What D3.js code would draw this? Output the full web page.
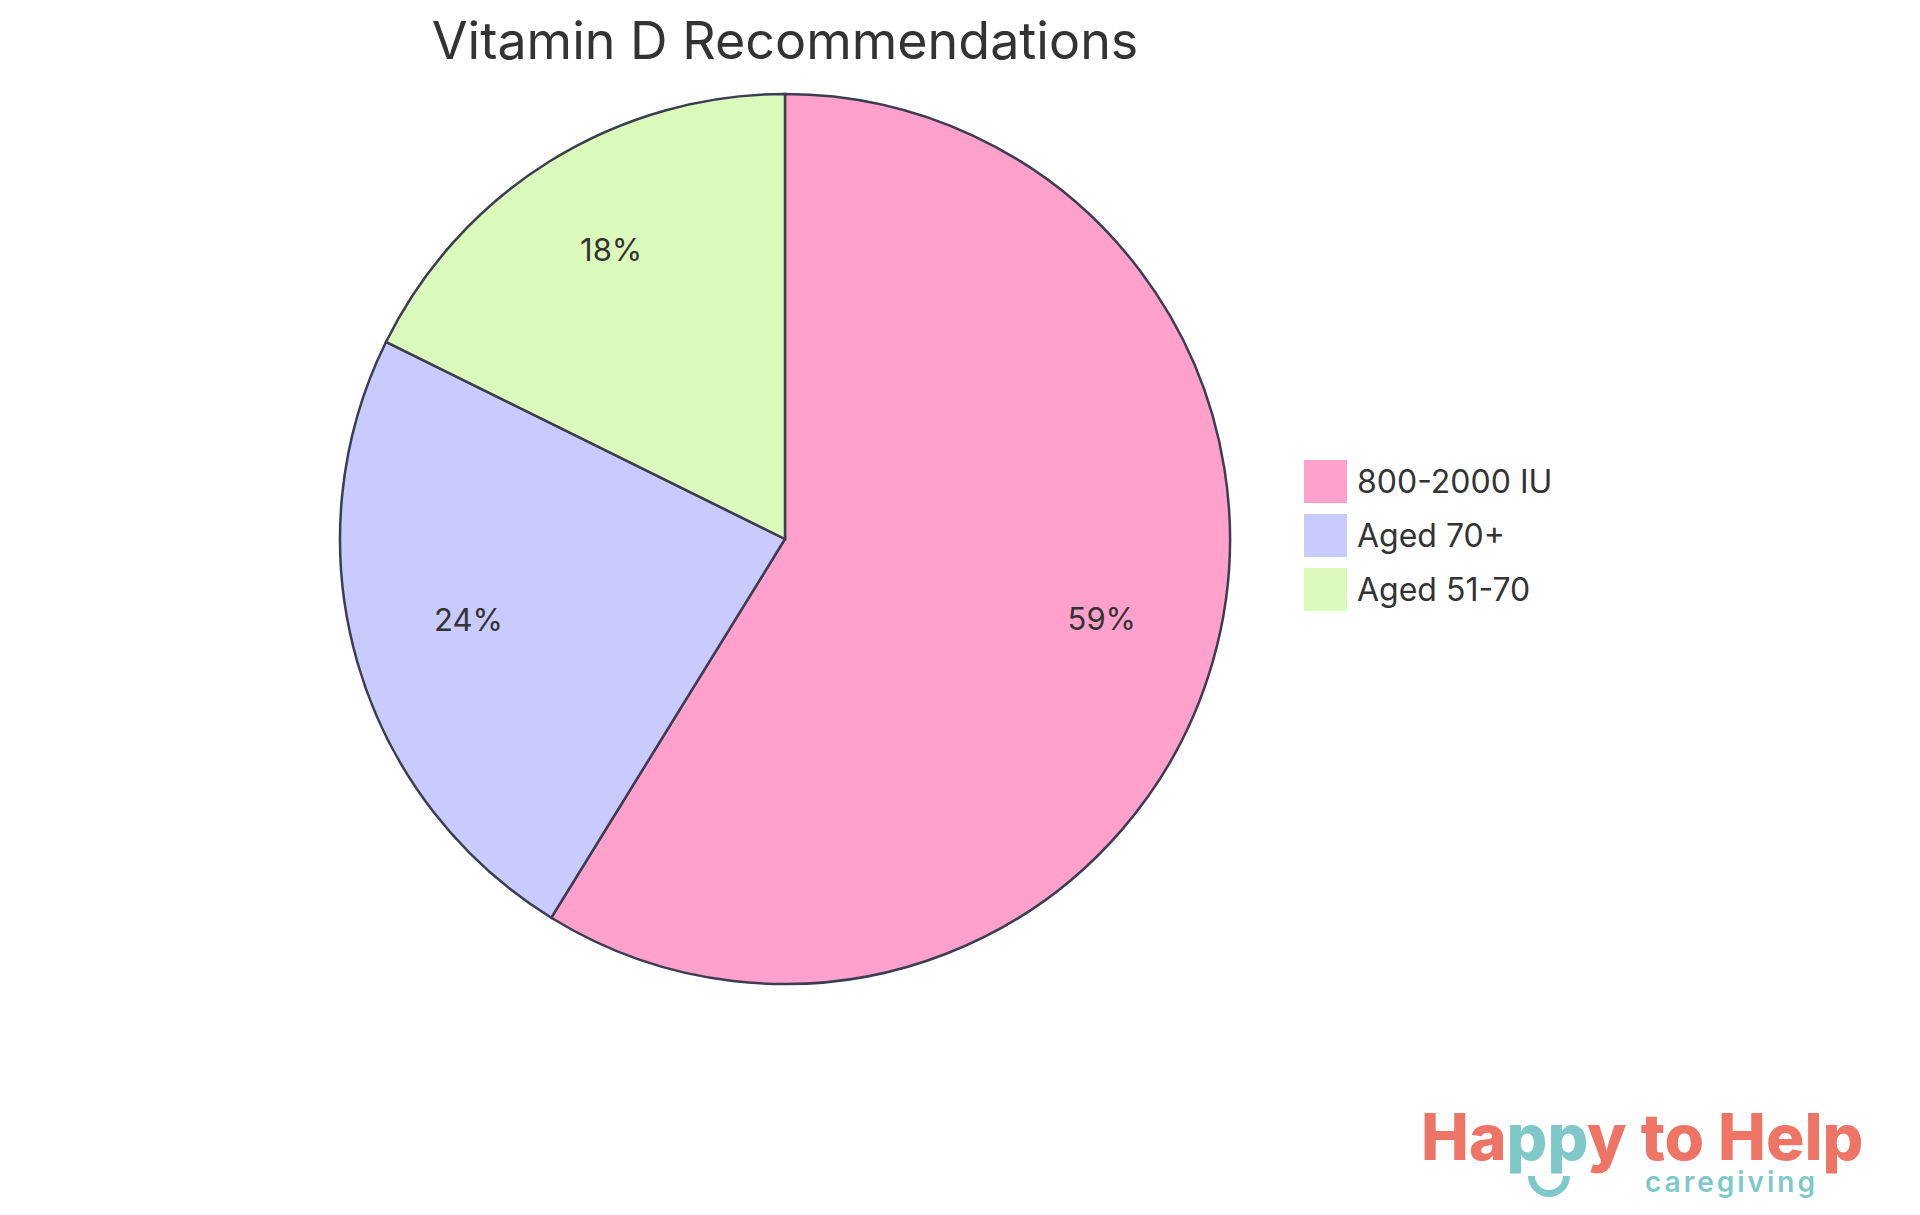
<!DOCTYPE html>
<html>
<head>
<meta charset="utf-8">
<script src="https://cdn.jsdelivr.net/npm/d3@7"></script>
<style>
  body { margin: 0; background: #fff; }
  text { font-family: Inter, "Noto Sans", sans-serif; }
</style>
</head>
<body>
<svg id="chart" width="1920" height="1215"></svg>
<script>
// Données du graphique
const labels = ['800-2000 IU', 'Aged 70+', 'Aged 51-70']
const values = [58.8, 23.5, 17.7]
const colors = ['#FFA1CC', '#C9CAFD', '#DCF9BC']

const svg = d3.select('#chart')
const cx = 785, cy = 539, radius = 445

// Titre
svg.append('text').attr('x', 785).attr('y', 59).attr('text-anchor', 'middle')
  .attr('font-size', 52).attr('fill', '#333').text('Vitamin D Recommendations')

const pie = d3.pie().sort(null).value(d => d)
const arcs = pie(values)
const arc = d3.arc().innerRadius(0).outerRadius(radius)
const labelArc = d3.arc().innerRadius(radius * 0.74).outerRadius(radius * 0.74)

const g = svg.append('g').attr('transform', `translate(${cx},${cy})`)
g.selectAll('path').data(arcs).enter().append('path')
  .attr('d', arc).attr('fill', (d, i) => colors[i])
  .attr('stroke', '#3c3c52').attr('stroke-width', 2.5)

g.selectAll('text.pct').data(arcs).enter().append('text')
  .attr('class', 'pct')
  .attr('transform', d => `translate(${labelArc.centroid(d)})`)
  .attr('text-anchor', 'middle').attr('dy', '0.05em')
  .attr('font-size', 31).attr('fill', '#333')
  .text(d => Math.round(d.data) + '%')

// Légende
const leg = svg.append('g').attr('transform', 'translate(1304,460)')
labels.forEach(function (l, i) {
  leg.append('rect').attr('x', 0).attr('y', i * 54).attr('width', 43).attr('height', 43)
    .attr('fill', colors[i])
  leg.append('text').attr('x', 53).attr('y', i * 54 + 22).attr('dy', '0.35em')
    .attr('font-size', 32).attr('fill', '#333').text(l)
})

// Logo
const logo = svg.append('g')
const t = logo.append('text').attr('x', 1421).attr('y', 1160)
  .attr('font-size', 64).attr('font-weight', 800).attr('fill', '#EE7466')
t.append('tspan').text('Ha')
t.append('tspan').attr('fill', '#7EC8C9').text('pp')
t.append('tspan').text('y to Help')
logo.append('text').attr('x', 1645).attr('y', 1192).attr('font-size', 28)
  .attr('font-weight', 600).attr('letter-spacing', 3).attr('fill', '#7EC8C9').text('caregiving')
logo.append('path').attr('d', d3.arc()({innerRadius: 14, outerRadius: 21, startAngle: Math.PI / 2, endAngle: 3 * Math.PI / 2}))
  .attr('transform', 'translate(1549,1176)').attr('fill', '#7EC8C9')
</script>
</body>
</html>
